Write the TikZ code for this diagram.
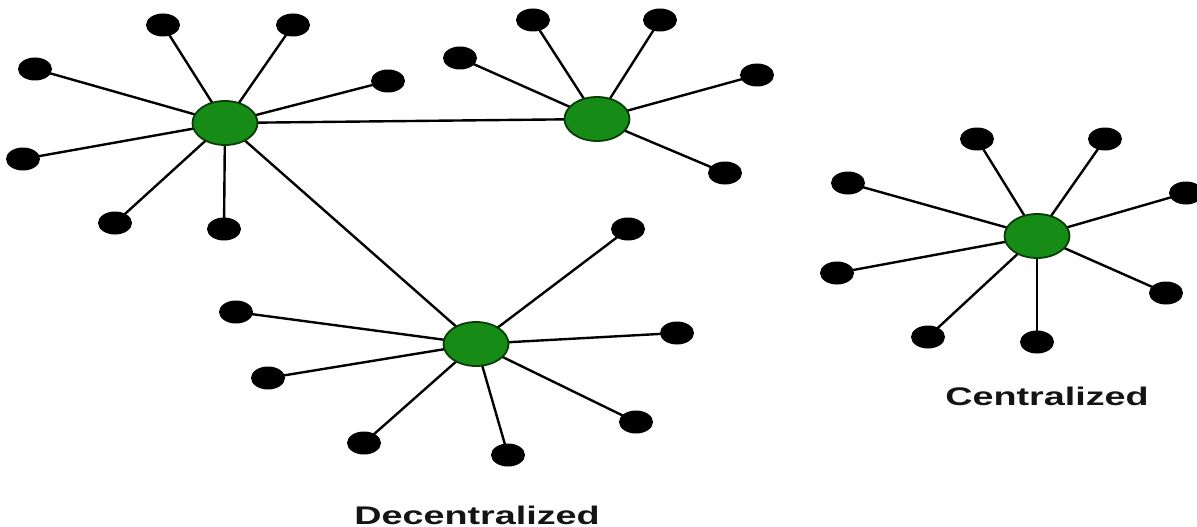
\documentclass[tikz,border=0pt]{standalone}
\usepackage{fontspec}
\setmainfont{Liberation Sans}
\usetikzlibrary{shapes.geometric,backgrounds}
\definecolor{hubgreen}{RGB}{22,140,22}
\definecolor{hubedge}{RGB}{10,60,10}
\definecolor{labelgray}{RGB}{20,20,20}
\begin{document}
\begin{tikzpicture}[x=1pt,y=-1pt,
  hub/.style={ellipse,minimum width=65pt,minimum height=44pt,inner sep=0pt,fill=hubgreen,draw=hubedge,line width=1.8pt},
  leaf/.style={ellipse,minimum width=34pt,minimum height=23pt,inner sep=0pt,fill=black},
  link/.style={line width=2.4pt,black},
  caption/.style={font=\bfseries\fontsize{25.5}{30}\selectfont,text=labelgray,xscale=1.48,transform shape,anchor=base,inner sep=0pt}]
\clip (0,0) rectangle (1197,527);
% hubs
\node[hub] (A) at (225,123) {};
\node[hub] (B) at (597,119) {};
\node[hub] (C) at (1037,236) {};
\node[hub] (D) at (476,344) {};
% leaves of A
\node[leaf] (a1) at (163,25) {};
\node[leaf] (a2) at (293,25) {};
\node[leaf] (a3) at (35,69) {};
\node[leaf] (a4) at (388,81) {};
\node[leaf] (a5) at (23,159) {};
\node[leaf] (a6) at (115,223) {};
\node[leaf] (a7) at (224,229) {};
% leaves of B
\node[leaf] (b1) at (533,20) {};
\node[leaf] (b2) at (660,20) {};
\node[leaf] (b3) at (460,58) {};
\node[leaf] (b4) at (757,75) {};
\node[leaf] (b5) at (725,173) {};
% leaves of C
\node[leaf] (c1) at (977,139) {};
\node[leaf] (c2) at (1105,139) {};
\node[leaf] (c3) at (848,183) {};
\node[leaf] (c4) at (1186,193) {};
\node[leaf] (c5) at (837,273) {};
\node[leaf] (c6) at (928,337) {};
\node[leaf] (c7) at (1037,342) {};
\node[leaf] (c8) at (1166,293) {};
% leaves of D
\node[leaf] (d1) at (628,229) {};
\node[leaf] (d2) at (236,312) {};
\node[leaf] (d3) at (677,333) {};
\node[leaf] (d4) at (268,378) {};
\node[leaf] (d5) at (364,443) {};
\node[leaf] (d6) at (508,455) {};
\node[leaf] (d7) at (636,422) {};
% connectors behind the nodes
\begin{pgfonlayer}{background}
\fill[white] (0,0) rectangle (1197,527);
\foreach \l in {a1,a2,a3,a4,a5,a6,a7} \draw[link] (A.center) -- (\l.center);
\foreach \l in {b1,b2,b3,b4,b5} \draw[link] (B.center) -- (\l.center);
\foreach \l in {c1,c2,c3,c4,c5,c6,c7,c8} \draw[link] (C.center) -- (\l.center);
\foreach \l in {d1,d2,d3,d4,d5,d6,d7} \draw[link] (D.center) -- (\l.center);
\draw[link] (A.center) -- (B.center);
\draw[link] (A.center) -- (D.center);
\end{pgfonlayer}
% captions
\node[caption] (cent) at (1047,405) {Centralized};
\node[caption] (decent) at (477,524) {Decentralized};
\end{tikzpicture}
\end{document}
